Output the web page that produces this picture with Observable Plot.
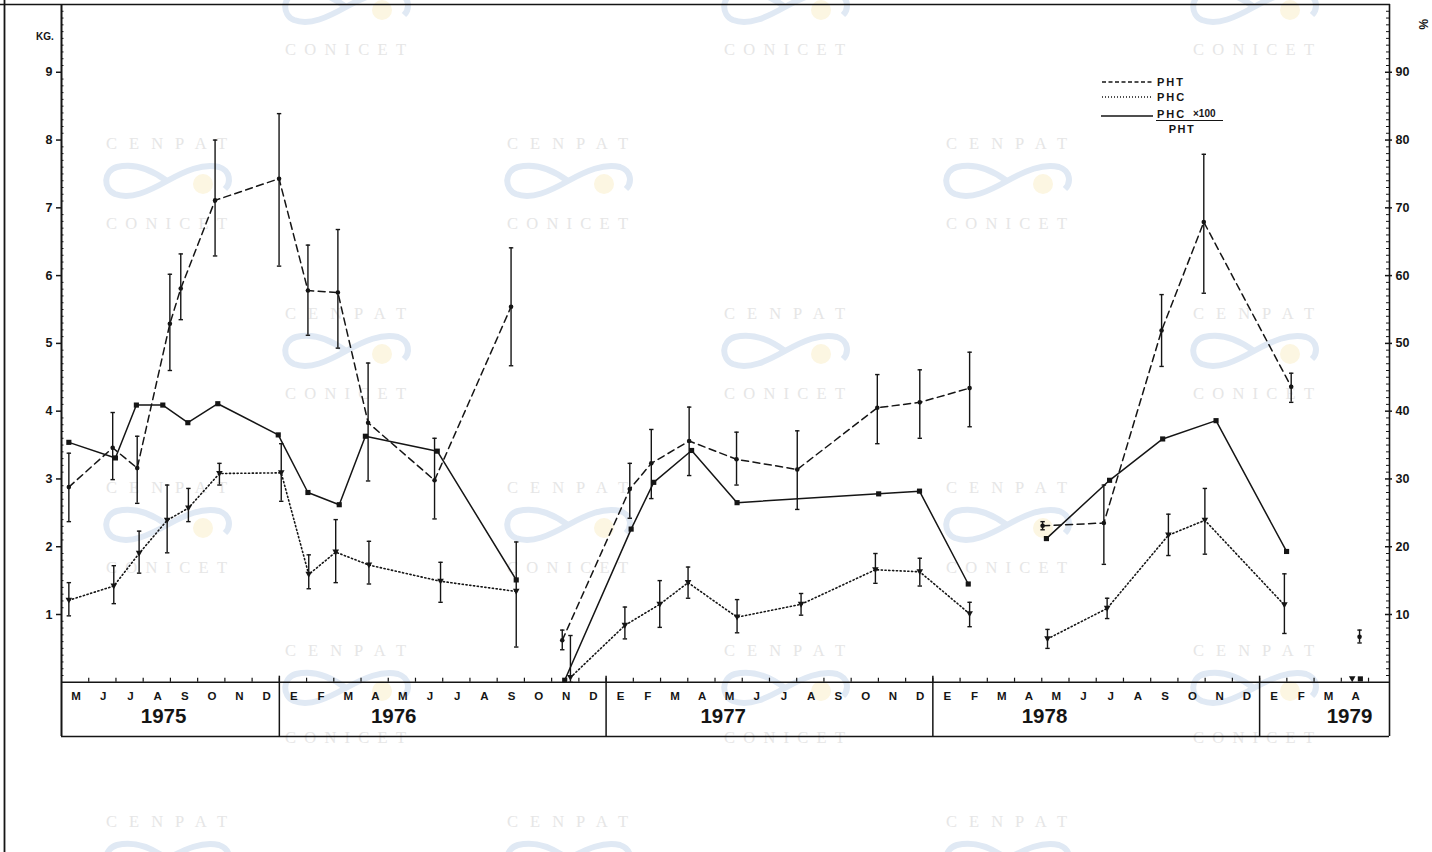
<!DOCTYPE html>
<html><head><meta charset="utf-8">
<script src="https://cdn.jsdelivr.net/npm/d3@7"></script>
<script src="https://cdn.jsdelivr.net/npm/@observablehq/plot@0.6"></script>
<style>
html,body{margin:0;padding:0;background:#fff;overflow:hidden;}
#wrap{position:relative;width:1432px;height:852px;}
#wm,#chart,#over{position:absolute;left:0;top:0;}
</style></head><body>
<div id="wrap"><svg id="wm" width="1432" height="852"></svg><div id="chart"></div><svg id="over" width="1432" height="852"></svg></div>
<script>
// ---------- DATA (x = months elapsed since 1 May 1975) ----------
// PHT (kg), dashed line, dots, with error bars
const phtMonth = [0.27,1.88,2.78,3.98,4.38,5.64,7.99,9.05,10.15,11.26,13.70,16.51, 18.39,20.87,21.66,23.05,24.79,27.02,29.96,31.52,33.35, 36.03,38.28,40.40,41.95,45.16, 47.67];
const phtKg    = [2.88,3.46,3.16,5.29,5.81,7.11,7.43,5.78,5.75,3.83,2.98,5.54, 0.62,2.85,3.23,3.56,3.29,3.14,4.05,4.13,4.34, 2.31,2.35,5.19,6.79,4.36, 0.67];
const phtLow   = [2.37,2.99,2.64,4.60,5.35,6.29,6.14,5.12,4.93,2.97,2.41,4.67, 0.48,2.42,2.71,3.05,2.91,2.55,3.52,3.60,3.77, 2.25,1.74,4.66,5.74,4.13, 0.58];
const phtHigh  = [3.38,3.98,3.63,6.02,6.32,8.00,8.39,6.45,6.68,4.71,3.60,6.41, 0.77,3.23,3.73,4.06,3.69,3.71,4.54,4.61,4.87, 2.37,2.91,5.72,7.79,4.56, 0.77];
const phtRun   = [1,1,1,1,1,1,1,1,1,1,1,1, 2,2,2,2,2,2,2,2,2, 3,3,3,3,3, 4];

// PHC (kg), dotted line, down triangles, with error bars
const phcMonth = [0.27,1.92,2.85,3.88,4.66,5.80,8.07,9.08,10.07,11.29,13.92,16.70, 18.69,20.69,21.97,23.01,24.81,27.16,29.89,31.52,33.35, 36.21,38.40,40.65,41.99,44.91, 47.40];
const phcKg    = [1.21,1.42,1.90,2.39,2.57,3.08,3.09,1.59,1.92,1.73,1.49,1.34, 0.07,0.84,1.15,1.47,0.96,1.15,1.66,1.63,1.01, 0.64,1.09,2.17,2.39,1.14, 0.05];
const phcLow   = [0.98,1.16,1.61,1.91,2.37,2.91,2.67,1.38,1.47,1.45,1.18,0.52, 0.00,0.64,0.81,1.24,0.73,0.99,1.46,1.42,0.82, 0.50,0.94,1.87,1.89,0.72, null];
const phcHigh  = [1.47,1.72,2.23,2.91,2.86,3.23,3.52,1.88,2.40,2.08,1.77,2.07, 0.69,1.11,1.50,1.70,1.22,1.31,1.90,1.83,1.18, 0.78,1.24,2.48,2.86,1.60, null];
const phcRun   = [1,1,1,1,1,1,1,1,1,1,1,1, 2,2,2,2,2,2,2,2,2, 3,3,3,3,3, 4];

// PHC x100 / PHT (%), solid line, squares
const ratioMonth = [0.27,1.98,2.75,3.72,4.64,5.74,7.96,9.05,10.20,11.16,13.80,16.70, 18.48,20.92,21.75,23.14,24.81,30.01,31.51,33.30, 36.17,38.49,40.44,42.40,44.99, 47.70];
const ratioPct   = [35.4,33.1,40.9,40.9,38.3,41.1,36.5,28.0,26.2,36.3,34.1,15.1, 0.3,22.6,29.5,34.2,26.5,27.8,28.2,14.5, 21.2,29.8,35.9,38.6,19.3, 0.5];
const ratioRun   = [1,1,1,1,1,1,1,1,1,1,1,1, 2,2,2,2,2,2,2,2, 3,3,3,3,3, 4];

// axis labels
const monthLabels = ["M","J","J","A","S","O","N","D",
  "E","F","M","A","M","J","J","A","S","O","N","D",
  "E","F","M","A","M","J","J","A","S","O","N","D",
  "E","F","M","A","M","J","J","A","S","O","N","D",
  "E","F","M","A"];
const yearLabels = ["1975","1976","1977","1978","1979"];
const yearStarts = [0, 8, 20, 32, 44];
const yearLabelAt = [3.75, 12.2, 24.3, 36.1, 47.3];
const kgTicks = [1,2,3,4,5,6,7,8,9];
const legendLabels = ["PHT", "PHC", "PHC", "×100", "PHT"];

// ---------- CHART ----------
const ink = "#151515";
const xMax = 48.77;
const hline = {draw(ctx, size){const w = Math.sqrt(size/Math.PI); ctx.moveTo(-w,0); ctx.lineTo(w,0);}};
const triDown = {draw(ctx, size){const s = Math.sqrt(size/Math.PI); ctx.moveTo(-s,-0.8*s); ctx.lineTo(s,-0.8*s); ctx.lineTo(0,s); ctx.closePath();}};
const build = (month, val, run, lo, hi) => month.map((m,i)=>({m, v: val[i], run: run[i], lo: lo ? lo[i] : null, hi: hi ? hi[i] : null}));
const pht = build(phtMonth, phtKg, phtRun, phtLow, phtHigh);
const phc = build(phcMonth, phcKg, phcRun, phcLow, phcHigh);
const ratio = build(ratioMonth, ratioPct, ratioRun);
const phtBars = pht.filter(d => d.lo != null);
const phcBars = phc.filter(d => d.lo != null);
const minor = d3.range(1, 100).filter(i => i % 10 !== 0).map(i => i/10);
const bold = {fontWeight: "bold", fill: ink};

const chart = Plot.plot({
  width: 1432, height: 852,
  marginLeft: 61, marginRight: 43, marginTop: 4, marginBottom: 116,
  x: {domain: [0, xMax], axis: null},
  y: {domain: [-0.8, 10], axis: null},
  style: {background: "transparent", fontFamily: "'Liberation Sans', Arial, Helvetica, sans-serif"},
  marks: [
    // axes and date box
    Plot.ruleX([0], {y1: -0.8, y2: 10, stroke: ink, strokeWidth: 2}),
    Plot.ruleX([xMax], {y1: -0.8, y2: 10, stroke: ink, strokeWidth: 1.6}),
    Plot.ruleY([0, -0.8], {x1: 0, x2: xMax, stroke: ink, strokeWidth: 1.6}),
    Plot.ruleX(yearStarts.slice(1), {y1: -0.8, y2: 0.09, stroke: ink, strokeWidth: 1.5}),
    Plot.ruleX(d3.range(1, 49), {y1: 0, y2: 0.06, stroke: ink, strokeWidth: 1.2}),
    Plot.ruleY(kgTicks, {y: d => d, x1: 0, x2: 0, insetLeft: -5, stroke: ink, strokeWidth: 1.5}),
    Plot.ruleY(minor, {y: d => d, x1: 0, x2: 0, insetRight: -2.5, stroke: ink, strokeWidth: 1}),
    Plot.ruleY(kgTicks, {y: d => d, x1: xMax, x2: xMax, insetLeft: -4, insetRight: -3, stroke: ink, strokeWidth: 1.5}),
    Plot.ruleY(minor, {y: d => d, x1: xMax, x2: xMax, insetLeft: -3, stroke: ink, strokeWidth: 1}),
    Plot.text(kgTicks, {x: 0, y: d => d, text: d => String(d), dx: -9, textAnchor: "end", fontSize: 12.5, ...bold}),
    Plot.text(kgTicks, {x: xMax, y: d => d, text: d => String(d*10), dx: 6, textAnchor: "start", fontSize: 12.5, ...bold}),
    Plot.text(monthLabels, {x: (d,i) => i + 0.53, y: -0.21, text: d => d, fontSize: 11.5, ...bold}),
    Plot.text(yearLabels, {x: (d,i) => yearLabelAt[i], y: -0.5, text: d => d, fontSize: 20.5, ...bold}),
    // error bars
    Plot.ruleX(phtBars, {x: "m", y1: "lo", y2: "hi", stroke: ink, strokeWidth: 1.4}),
    Plot.dot(phtBars, {x: "m", y: "hi", symbol: hline, r: 2.2, stroke: ink, strokeWidth: 1.4, fill: "none"}),
    Plot.dot(phtBars, {x: "m", y: "lo", symbol: hline, r: 2.2, stroke: ink, strokeWidth: 1.4, fill: "none"}),
    Plot.ruleX(phcBars, {x: "m", y1: "lo", y2: "hi", stroke: ink, strokeWidth: 1.4}),
    Plot.dot(phcBars, {x: "m", y: "hi", symbol: hline, r: 2.2, stroke: ink, strokeWidth: 1.4, fill: "none"}),
    Plot.dot(phcBars, {x: "m", y: "lo", symbol: hline, r: 2.2, stroke: ink, strokeWidth: 1.4, fill: "none"}),
    // series lines
    Plot.line(pht, {x: "m", y: "v", z: "run", stroke: ink, strokeWidth: 1.5, strokeDasharray: "7,4.5"}),
    Plot.line(phc, {x: "m", y: "v", z: "run", stroke: ink, strokeWidth: 1.6, strokeDasharray: "1.2,2.6", strokeLinecap: "round"}),
    Plot.line(ratio, {x: "m", y: d => d.v / 10, z: "run", stroke: ink, strokeWidth: 1.5}),
    // markers
    Plot.dot(pht, {x: "m", y: "v", r: 2.3, fill: ink, stroke: "none"}),
    Plot.dot(phc, {x: "m", y: "v", symbol: triDown, r: 3.3, fill: ink, stroke: "none"}),
    Plot.dot(ratio, {x: "m", y: d => d.v / 10, symbol: "square", r: 2.9, fill: ink, stroke: "none"})
  ]
});
document.getElementById("chart").appendChild(chart);

// ---------- watermark (scan source stamp) ----------
const wm = d3.select("#wm");
const wmText = "#e6e6e6", wmBlue = "#e0e9f4", wmSun = "#fcf6e2";
const wmFont = "'Liberation Serif', 'DejaVu Serif', serif";
const wmUnits = [];
[[345, 784, 1253], [166, 567, 1006]].forEach((xs, k) => {
  const ys = k === 0 ? [-31, 313, 650] : [143, 487, 821];
  xs.forEach(cx => ys.forEach(cy => wmUnits.push([cx, cy])));
});
wmUnits.forEach(([cx, cy]) => {
  if (cy > 0) {
    wm.append("text").attr("x", cx - 60).attr("y", cy + 6).attr("textLength", 121).attr("lengthAdjust", "spacing")
      .attr("font-family", wmFont).attr("font-size", 16.5).attr("fill", wmText).text("CENPAT");
  }
  const g = wm.append("g").attr("transform", `translate(${cx - 63},${cy + 20})`);
  g.append("circle").attr("cx", 100).attr("cy", 21).attr("r", 10).attr("fill", wmSun);
  g.append("path").attr("d", "M64,18 C48,6 30,0 14,4 C0,8 0,26 12,31 C28,37 46,28 64,18 C82,8 100,0 116,4 C128,8 128,20 122,26")
    .attr("fill", "none").attr("stroke", wmBlue).attr("stroke-width", 6);
  const yb = cy > 600 ? cy + 93 : cy + 86;
  if (yb < 852) {
    wm.append("text").attr("x", cx - 60).attr("y", yb).attr("textLength", 121).attr("lengthAdjust", "spacing")
      .attr("font-family", wmFont).attr("font-size", 16.5).attr("fill", wmText).text("CONICET");
  }
});

// ---------- overlay: frame, unit labels, legend ----------
const ov = d3.select("#over");
const font = "'Liberation Sans', Arial, Helvetica, sans-serif";
ov.append("line").attr("x1", 4.5).attr("x2", 4.5).attr("y1", 0).attr("y2", 852).attr("stroke", ink).attr("stroke-width", 1.8);
ov.append("line").attr("x1", 0).attr("x2", 1390).attr("y1", 4.5).attr("y2", 4.5).attr("stroke", ink).attr("stroke-width", 1.6);
ov.append("text").attr("x", 45).attr("y", 40).attr("text-anchor", "middle").attr("font-family", font).attr("font-weight", "bold").attr("font-size", 10).attr("fill", ink).text("KG.");
ov.append("text").attr("transform", "translate(1419,19) rotate(90)").attr("font-family", font).attr("font-weight", "bold").attr("font-size", 12).attr("fill", ink).text("%");

const lg = ov.append("g").attr("font-family", font).attr("font-weight", "bold").attr("fill", ink).attr("font-size", 11);
lg.append("line").attr("x1", 1102).attr("x2", 1153).attr("y1", 82).attr("y2", 82).attr("stroke", ink).attr("stroke-width", 1.5).attr("stroke-dasharray", "4,2.5");
lg.append("line").attr("x1", 1102).attr("x2", 1153).attr("y1", 97).attr("y2", 97).attr("stroke", ink).attr("stroke-width", 1.5).attr("stroke-dasharray", "1,2");
lg.append("line").attr("x1", 1101).attr("x2", 1153).attr("y1", 116).attr("y2", 116).attr("stroke", ink).attr("stroke-width", 1.3);
lg.append("line").attr("x1", 1156).attr("x2", 1223).attr("y1", 120.5).attr("y2", 120.5).attr("stroke", ink).attr("stroke-width", 1);
lg.append("text").attr("x", 1157).attr("y", 86).attr("letter-spacing", 2).text(legendLabels[0]);
lg.append("text").attr("x", 1157).attr("y", 101).attr("letter-spacing", 2).text(legendLabels[1]);
lg.append("text").attr("x", 1157).attr("y", 117.5).attr("letter-spacing", 2).text(legendLabels[2]);
lg.append("text").attr("x", 1193).attr("y", 117).attr("font-size", 10).text(legendLabels[3]);
lg.append("text").attr("x", 1182).attr("y", 132.5).attr("text-anchor", "middle").attr("letter-spacing", 1.5).text(legendLabels[4]);
</script>
</body></html>
